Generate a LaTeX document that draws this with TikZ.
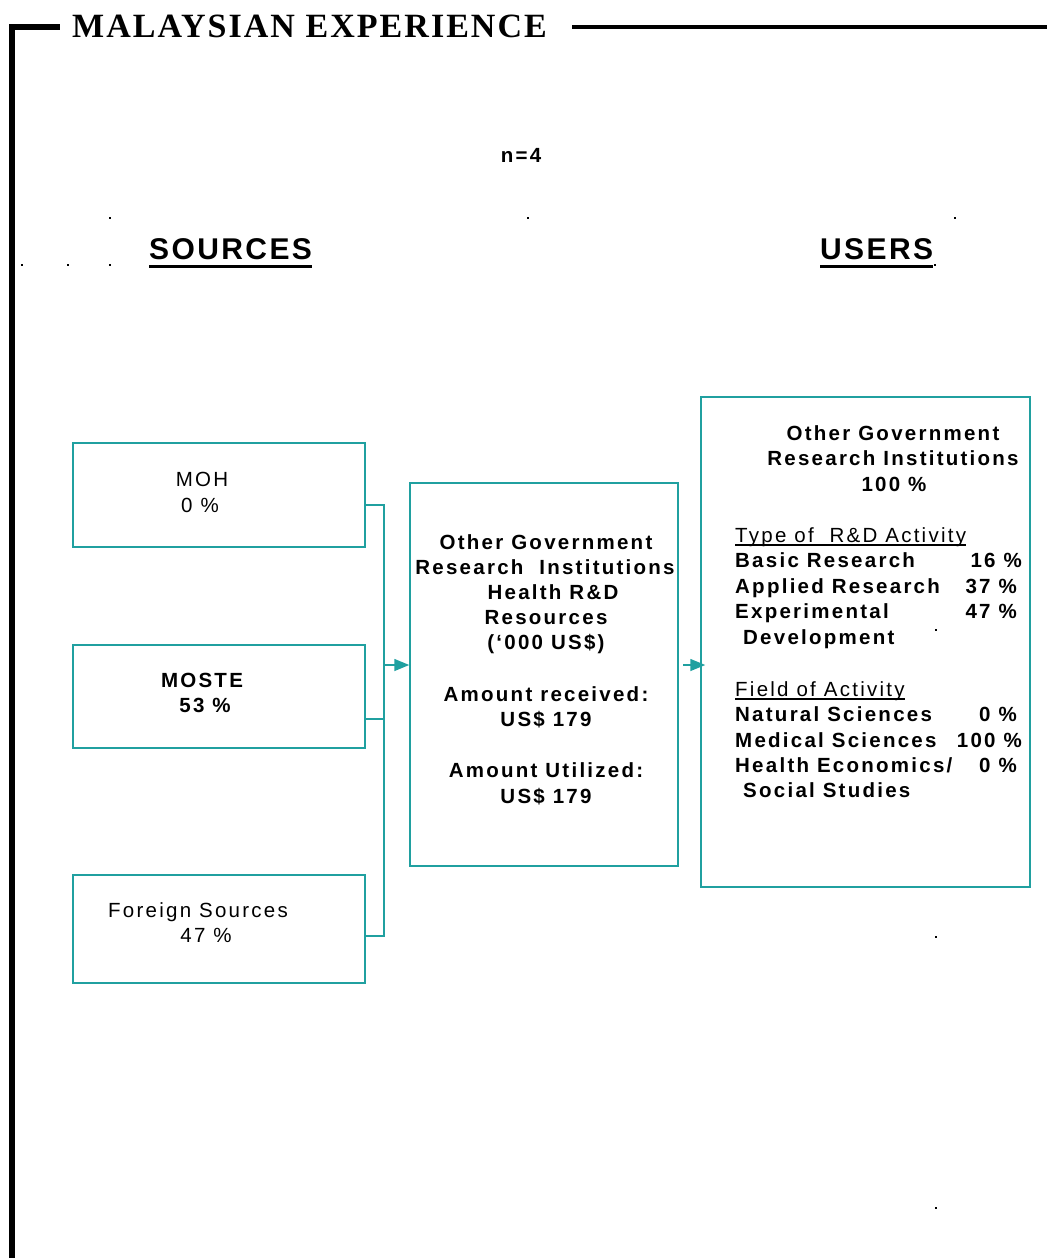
\documentclass[tikz,border=0pt]{standalone}
\usepackage{fontspec}
\setmainfont{Liberation Sans}
\newfontfamily\spc[LetterSpace=11]{Liberation Sans}
\newfontfamily\hdfont[LetterSpace=8]{Liberation Sans}
\newfontfamily\ttlfont[LetterSpace=6]{Liberation Serif}
\usetikzlibrary{arrows.meta}
\definecolor{teal1}{RGB}{32,160,160}
\begin{document}
\begin{tikzpicture}[x=1pt,y=-1pt,
  box/.style={draw=teal1,line width=1.5pt,rectangle,inner sep=0pt},
  txt/.style={inner sep=0pt,font=\spc\fontsize{20.5}{25}\selectfont},
  btxt/.style={inner sep=0pt,font=\spc\bfseries\fontsize{20.5}{25}\selectfont},
  hd/.style={inner sep=0pt,font=\hdfont\bfseries\fontsize{30}{34}\selectfont},
  conn/.style={draw=teal1,line width=1.5pt},
  arr/.style={conn,-{Triangle[length=15pt,width=12pt]}},
  frame/.style={line width=5.5pt},
  ul/.style={line width=1.2pt},
  dot/.style={fill=black}]
\useasboundingbox (0,0) rectangle (1047,1258);
% frame and title
\node[inner sep=0pt,anchor=base west,font=\ttlfont\bfseries\fontsize{34}{36}\selectfont] (title) at (72,37) {MALAYSIAN EXPERIENCE};
\draw[frame] (12,1258) -- (12,27) -- (60,27);
\draw[frame,line width=4pt] (572,27) -- (1047,27);
% stray dots
\foreach \px/\py [count=\k] in {110/218,528/218,955/218,22/265,68/265,110/265,935/265,936/630,936/937,936/1208}
  \fill[dot] (\px-1,\py-1) rectangle (\px+1,\py+1);
% headings
\node[btxt,anchor=base] (n4) at (521,162) {n=4};
\node[hd,anchor=base west] (src) at (149,259) {SOURCES};
\node[hd,anchor=base west] (usr) at (820,259) {USERS};
\draw[ul,line width=2.5pt] ([yshift=-7.5pt]src.base west) -- ([yshift=-7.5pt]src.base east);
\draw[ul,line width=2.5pt] ([yshift=-7.5pt]usr.base west) -- ([yshift=-7.5pt]usr.base east);
% source boxes
\node[box,minimum width=292pt,minimum height=104pt] (moh) at (219,495) {};
\node[box,minimum width=292pt,minimum height=103pt] (moste) at (219,696.5) {};
\node[box,minimum width=292pt,minimum height=108pt] (forn) at (219,929) {};
\node[txt,anchor=base] (moh1) at (202,486) {MOH};
\node[txt,anchor=base] (moh2) at (200,512) {0 \%};
\node[btxt,anchor=base] (ms1) at (202,687) {MOSTE};
\node[btxt,anchor=base] (ms2) at (205,712) {53 \%};
\node[txt,anchor=base west] (fs1) at (108,917) {Foreign Sources};
\node[txt,anchor=base] (fs2) at (206,942) {47 \%};
% middle box
\node[box,minimum width=268pt,minimum height=383pt] (mid) at (544,674.5) {};
\node[btxt,anchor=base] (m1) at (546,549) {Other Government};
\node[btxt,anchor=base] (m2) at (545,574) {Research\ \ Institutions};
\node[btxt,anchor=base] (m3) at (553,599) {Health R\&D};
\node[btxt,anchor=base] (m4) at (546,624) {Resources};
\node[btxt,anchor=base] (m5) at (546,649) {(‘000 US\$)};
\node[btxt,anchor=base] (m6) at (546,701) {Amount received:};
\node[btxt,anchor=base] (m7) at (546,726) {US\$ 179};
\node[btxt,anchor=base] (m8) at (546,777) {Amount Utilized:};
\node[btxt,anchor=base] (m9) at (546,803) {US\$ 179};
% right box
\node[box,minimum width=329pt,minimum height=490pt] (usrbox) at (865.5,642) {};
\node[btxt,anchor=base] (r1) at (893,440) {Other Government};
\node[btxt,anchor=base] (r2) at (893,465) {Research Institutions};
\node[btxt,anchor=base] (r3) at (894,491) {100 \%};
\node[txt,anchor=base west] (t0) at (735,542) {Type of\ \ R\&D Activity};
\draw[ul] ([yshift=-3pt]t0.base west) -- ([yshift=-3pt]t0.base east);
\node[btxt,anchor=base west] (t1) at (735,567) {Basic Research};
\node[btxt,anchor=base east] (p1) at (1022,567) {16 \%};
\node[btxt,anchor=base west] (t2) at (735,593) {Applied Research};
\node[btxt,anchor=base east] (p2) at (1017,593) {37 \%};
\node[btxt,anchor=base west] (t3) at (735,618) {Experimental};
\node[btxt,anchor=base east] (p3) at (1017,618) {47 \%};
\node[btxt,anchor=base west] (t4) at (743,644) {Development};
\node[txt,anchor=base west] (f0) at (735,696) {Field of Activity};
\draw[ul] ([yshift=-3pt]f0.base west) -- ([yshift=-3pt]f0.base east);
\node[btxt,anchor=base west] (f1) at (735,721) {Natural Sciences};
\node[btxt,anchor=base east] (q1) at (1017,721) {0 \%};
\node[btxt,anchor=base west] (f2) at (735,747) {Medical Sciences};
\node[btxt,anchor=base east] (q2) at (1022,747) {100 \%};
\node[btxt,anchor=base west] (f3) at (735,772) {Health Economics/};
\node[btxt,anchor=base east] (q3) at (1017,772) {0 \%};
\node[btxt,anchor=base west] (f4) at (743,797) {Social Studies};
% connectors
\coordinate (b1) at (384,505);
\coordinate (b2) at (384,719);
\coordinate (b3) at (384,936);
\coordinate (bm) at (384,665);
\coordinate (ra) at (683,665);
\draw[conn] (moh.east |- b1) -- (b1) -- (b3) -- (forn.east |- b3);
\draw[conn] (moste.east |- b2) -- (b2);
\draw[arr] (bm) -- (mid.west |- bm);
\draw[arr,shorten >=-5pt] (ra) -- (usrbox.west |- ra);
\end{tikzpicture}
\end{document}
